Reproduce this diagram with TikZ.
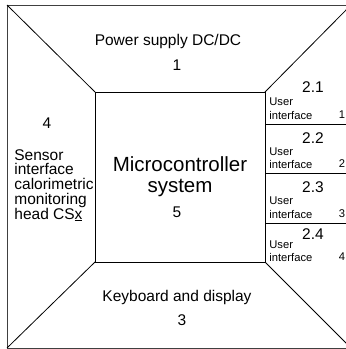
\documentclass[tikz,border=0pt]{standalone}
\usepackage{fontspec}
\setmainfont{Liberation Sans}
\usepackage{tikz}

\begin{document}
\begin{tikzpicture}[x=1pt,y=-1pt,line width=0.8pt,
  every node/.style={font=\fontsize{15.5pt}{17pt}\selectfont,inner sep=0pt},
  small/.style={font=\fontsize{11.2pt}{12pt}\selectfont},
  big/.style={font=\fontsize{20.5pt}{22pt}\selectfont}]
  \useasboundingbox (0,0) rectangle (346,349);
  \begin{scope}
    \clip (0,0) rectangle (346,349);
    \coordinate (P) at (7,5);
    \coordinate (Q) at (351,5);
    \coordinate (R) at (351,348);
    \coordinate (S) at (7,348);
    \coordinate (A) at (95,92);
    \coordinate (B) at (265,92);
    \coordinate (C) at (265,262);
    \coordinate (D) at (95,262);
    \draw[black!75] (P) rectangle (R);
    \draw (A) rectangle (C);
    \draw (P) -- (A) (Q) -- (B) (R) -- (C) (S) -- (D);
    \foreach \y in {124,173,223} \draw (265,\y) -- (351,\y);
  \end{scope}
  \node (psu) at (168,41) {Power supply DC/DC};
  \node (psun) at (177,65) {1};
  \node (sensn) at (47,123) {4};
  \node[anchor=north west,align=left,font=\fontsize{15.5pt}{14.7pt}\selectfont] (sens)
    at (14,149) {Sensor\\interface\\calorimetric\\monitoring\\head CS\underline{x}};
  \node[big] (mcu) at (180,164) {Microcontroller};
  \node[big] (mcus) at (180,188) {system};
  \node (mcun) at (177,212) {5};
  \node (kbd) at (177,297) {Keyboard and display};
  \node (kbdn) at (182,320) {3};
  \foreach \k/\ya/\yb/\yc in {1/87/102/115,2/138/152/164,3/187/201/214,4/234/245/257} {
    \node (n2\k) at (313,\ya) {2.\k};
    \node[small,anchor=west] (u2\k) at (269,\yb) {User};
    \node[small,anchor=west] (i2\k) at (269,\yc) {interface};
    \node[small] (k2\k) at (342,\yc) {\k};
  }
\end{tikzpicture}
\end{document}
